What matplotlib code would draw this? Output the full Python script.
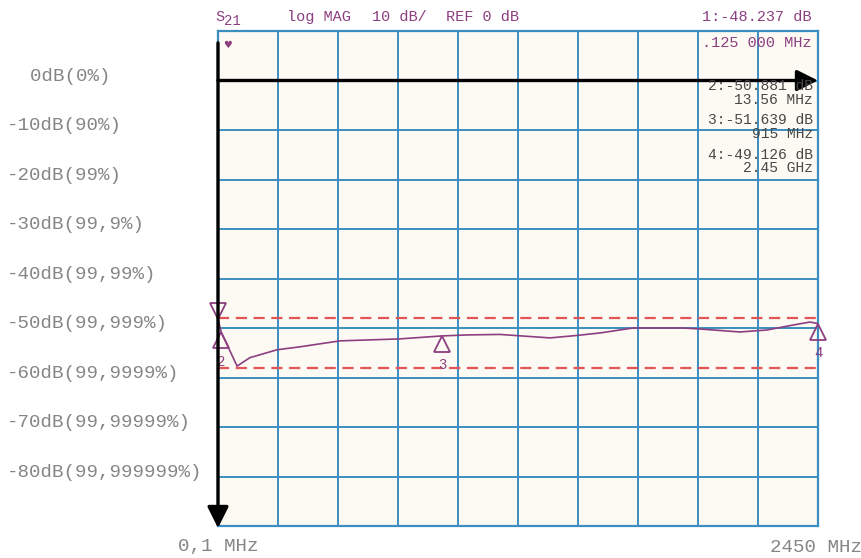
import matplotlib
matplotlib.use("Agg")
import matplotlib.pyplot as plt
from matplotlib import transforms

# trace (MHz, dB)
freq_mhz = [0.1, 13.56, 78, 130, 241, 335, 498, 743, 915, 1017, 1151, 1356,
            1466, 1560, 1695, 1899, 1968, 2131, 2242, 2348, 2417, 2450]
s21_db = [-48.2, -50.9, -57.7, -56.0, -54.4, -53.8, -52.6, -52.2, -51.6, -51.4,
          -51.3, -52.0, -51.5, -51.0, -50.0, -50.0, -50.2, -50.8, -50.4, -49.4,
          -48.8, -49.1]

marker_ids = ["1", "2", "3", "4"]
marker_freq = [0.125, 13.56, 915, 2450]
marker_db = [-48.237, -50.881, -51.639, -49.126]

limit_db = [-48, -58]

level_db = [0, -10, -20, -30, -40, -50, -60, -70, -80]
level_labels = ["  0dB(0%)", "-10dB(90%)", "-20dB(99%)", "-30dB(99,9%)",
                "-40dB(99,99%)", "-50dB(99,999%)", "-60dB(99,9999%)",
                "-70dB(99,99999%)", "-80dB(99,999999%)"]

readouts = [("2:-50.881 dB", "13.56 MHz"),
            ("3:-51.639 dB", "915 MHz"),
            ("4:-49.126 dB", "2.45 GHz")]

W, H = 862, 558
PURPLE = "#8c3f80"
GRID = "#3b8fc0"
MONO = "Liberation Mono"

fig = plt.figure(figsize=(W / 100, H / 100), dpi=100)
ax = fig.add_axes([218 / W, 32 / H, 600 / W, 495 / H])
ax.set_facecolor("#fcfaf3")

x_lo, x_hi = 0.1, 2450
ax.set_xlim(x_lo, x_hi)
ax.set_ylim(-90, 10)
step = (x_hi - x_lo) / 10
ax.set_xticks([x_lo + i * step for i in range(11)])
ax.set_yticks(range(-90, 11, 10))
ax.grid(True, color=GRID, lw=1.4)
ax.tick_params(length=0, labelbottom=False, labelleft=False)
for sp in ax.spines.values():
    sp.set_color(GRID)
    sp.set_linewidth(1.6)

# limit lines
for lv in limit_db:
    ax.axhline(lv, color="#e35555", lw=1.6, ls=(0, (5, 3)), zorder=3)

# trace
ax.plot(freq_mhz, s21_db, color=PURPLE, lw=1.2, zorder=4)

# marker triangles
down = transforms.ScaledTranslation(0, -8 / 100, fig.dpi_scale_trans)
up = transforms.ScaledTranslation(0, 8 / 100, fig.dpi_scale_trans)
for mid, mf, md in zip(marker_ids, marker_freq, marker_db):
    if mid == "1":
        ax.plot(mf, md, marker="v", ms=12, mfc="none", mec=PURPLE, mew=1.3,
                transform=ax.transData + up, clip_on=False, zorder=5)
    else:
        ax.plot(mf, md, marker="^", ms=12, mfc="none", mec=PURPLE, mew=1.3,
                transform=ax.transData + down, clip_on=False, zorder=5)
        ax.annotate(mid, (mf, md), xytext=(0, -21), textcoords="offset points",
                    ha="center", va="center", color=PURPLE, fontsize=10,
                    family=MONO, annotation_clip=False)

# black arrows: 0 dB reference and the left edge
ax.annotate("", xy=(x_hi, 0), xytext=(x_lo, 0),
            arrowprops=dict(arrowstyle="-|>", color="black", lw=2.4,
                            mutation_scale=32, shrinkA=0, shrinkB=0),
            annotation_clip=False, zorder=6)
ax.annotate("", xy=(x_lo, -90.4), xytext=(x_lo, 7.6),
            arrowprops=dict(arrowstyle="-|>", color="black", lw=2.4,
                            mutation_scale=32, shrinkA=0, shrinkB=0),
            annotation_clip=False, zorder=6)

# reference level glyph top left
ax.text(x_lo + 40, 7.2, "\u2665", color=PURPLE, fontsize=7, ha="center",
        va="center", family="DejaVu Sans")

# left scale labels
tr = transforms.blended_transform_factory(fig.transFigure, ax.transData)
for lv, lab in zip(level_db, level_labels):
    ax.text(7 / W, lv + 0.9, lab, transform=tr, ha="left", va="center",
            family=MONO, fontsize=13.8, color="#858585", clip_on=False)

# bottom labels
fig.text(218 / W, 1 - 547 / H, "0,1 MHz", ha="center", va="center",
         family=MONO, fontsize=13.8, color="#858585")
fig.text(816 / W, 1 - 547 / H, "2450 MHz", ha="center", va="center",
         family=MONO, fontsize=13.8, color="#858585")

# header
def ftext(x, y, s, **kw):
    kw.setdefault("color", PURPLE)
    kw.setdefault("family", MONO)
    kw.setdefault("fontsize", 11)
    fig.text(x / W, 1 - y / H, s, va="center", **kw)

ftext(215, 17, "S")
ftext(224, 21, "21", fontsize=10)
ftext(287, 17, "log MAG")
ftext(372, 17, "10 dB/")
ftext(446, 17, "REF 0 dB")
ftext(812, 17, "1:-48.237 dB", ha="right")
ftext(812, 43, ".125 000 MHz", ha="right")

# marker readouts
for i, (l1, l2) in enumerate(readouts):
    y0 = 86 + i * 34.5
    ftext(813, y0, l1, ha="right", color="#474747", fontsize=10.5)
    ftext(813, y0 + 13.5, l2, ha="right", color="#474747", fontsize=10.5)

fig.savefig("out.png", dpi=100, facecolor="white")
